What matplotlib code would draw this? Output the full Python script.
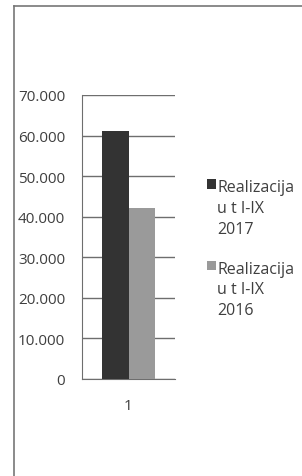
import matplotlib
matplotlib.use('Agg')
import matplotlib.pyplot as plt
from matplotlib.ticker import FuncFormatter
from matplotlib.lines import Line2D

categories = ['1']
series_names = ['Realizacija\nu t I-IX\n2017', 'Realizacija\nu t I-IX\n2016']
values_2017 = [61200]
values_2016 = [42100]
bar_colors = ['#333333', '#9a9a9a']
text_color = '#3f3f3f'

plt.rcParams['font.family'] = ['Open Sans', 'DejaVu Sans']

fig = plt.figure(figsize=(3.02, 4.77), dpi=100)
ax = fig.add_axes([82/302, 97/477, 93/302, 284/477])

x = list(range(len(categories)))
w = 0.28
ax.bar([i - w/2 for i in x], values_2017, width=w, color=bar_colors[0], label=series_names[0], zorder=3)
ax.bar([i + w/2 for i in x], values_2016, width=w, color=bar_colors[1], label=series_names[1], zorder=3)

ax.set_xlim(-0.5, 0.5)
ax.set_ylim(0, 70000)
ax.set_yticks(range(0, 70001, 10000))
ax.yaxis.set_major_formatter(FuncFormatter(lambda v, p: f'{int(v):,}'.replace(',', '.')))
ax.set_xticks(x)
ax.set_xticklabels(categories)
ax.grid(axis='y', color='#6e6e6e', linewidth=1, zorder=0)
ax.tick_params(axis='y', length=0, pad=12, labelsize=11, labelcolor=text_color)
ax.tick_params(axis='x', length=0, pad=14, labelsize=11, labelcolor=text_color)
for s in ['top', 'right']:
    ax.spines[s].set_visible(False)
for s in ['left', 'bottom']:
    ax.spines[s].set_color('#6e6e6e')

leg = ax.legend(loc='upper left', bbox_to_anchor=(207/302, 1 - 180/477),
                bbox_transform=fig.transFigure, frameon=False, fontsize=11.5,
                handlelength=0.55, handleheight=0.55, handletextpad=0.1,
                labelspacing=1.5, borderpad=0, borderaxespad=0)
for t in leg.get_texts():
    t.set_color(text_color)
    t.set_linespacing(1.4)
for col in leg._legend_handle_box.get_children():
    for row in col.get_children():
        row.align = 'top'

# chart border (left and top edges visible in the scan)
fig.add_artist(Line2D([14/302, 14/302], [0, 1 - 7/477], color='#777777', linewidth=1.2))
fig.add_artist(Line2D([14/302, 1], [1 - 7/477, 1 - 7/477], color='#777777', linewidth=1.2))

fig.savefig('out.png', dpi=100)
